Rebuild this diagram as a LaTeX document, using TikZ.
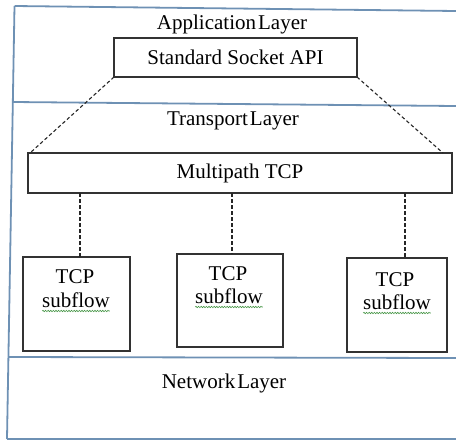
\documentclass[tikz,border=0pt]{standalone}
\usepackage{fontspec}
\setmainfont{Liberation Serif}
\usetikzlibrary{decorations.pathmorphing}
\definecolor{framec}{RGB}{110,145,180}
\definecolor{boxc}{RGB}{50,50,50}
\definecolor{spellc}{RGB}{70,150,70}
\newcommand\laysp{\hspace{2pt}}
\tikzset{
  lbl/.style={inner sep=0pt, outer sep=0pt, font=\fontsize{21}{24}\selectfont, text=black},
  boxnode/.style={draw=boxc, line width=1.2pt, inner sep=0pt, outer sep=0pt, rectangle, fill=white},
  frameline/.style={draw=framec, line width=1.8pt},
  conn/.style={draw=black!85, line width=1.1pt, dash pattern=on 3.5pt off 2.5pt},
  spell/.style={draw=spellc, line width=0.6pt, decorate, decoration={snake, amplitude=0.7pt, segment length=2.6pt}}
}
\begin{document}
\begin{tikzpicture}[x=1pt,y=-1pt]
\useasboundingbox (0,0) rectangle (456,440);
% frame
\draw[frameline] (14.5,6) -- (7,439);
\draw[frameline] (14.5,6) -- (456,11);
\draw[frameline] (13,102) -- (456,106);
\draw[frameline] (8.4,357) -- (456,358);
\draw[frameline] (7,439) -- (456,439);
% layer labels
\node[lbl, anchor=base] (app) at (232,29) {Application\laysp Layer};
\node[lbl, anchor=base] (trl) at (233,125) {Transport\laysp Layer};
\node[lbl, anchor=base] (net) at (224,388) {Network\laysp Layer};
% boxes
\node[boxnode, minimum width=243pt, minimum height=39pt, font=\fontsize{21}{24}\selectfont] (api) at (235.5,57.5) {Standard Socket API};
\node[boxnode, minimum width=424pt, minimum height=40pt, font=\fontsize{21}{24}\selectfont] (mp) at (240,173) {Multipath TCP};
\node[boxnode, minimum width=107pt, minimum height=94pt] (sub1) at (76.5,304) {};
\node[boxnode, minimum width=106pt, minimum height=93pt] (sub2) at (230,300.5) {};
\node[boxnode, minimum width=100pt, minimum height=94pt] (sub3) at (397,305) {};
% subflow texts
\node[lbl, anchor=base] (t1) at (75,283) {TCP};
\node[lbl, anchor=base] (s1) at (76,307) {subflow};
\node[lbl, anchor=base] (t2) at (228,280) {TCP};
\node[lbl, anchor=base] (s2) at (229,303) {subflow};
\node[lbl, anchor=base] (t3) at (395,286) {TCP};
\node[lbl, anchor=base] (s3) at (397,309) {subflow};
\draw[spell] ([yshift=-4pt]s1.base west) -- ([yshift=-4pt]s1.base east);
\draw[spell] ([yshift=-4pt]s2.base west) -- ([yshift=-4pt]s2.base east);
\draw[spell] ([yshift=-4pt]s3.base west) -- ([yshift=-4pt]s3.base east);
% connectors
\coordinate (c1) at (80,0);
\coordinate (c2) at (232,0);
\coordinate (c3) at (405,0);
\draw[conn] (api.south west) -- ([xshift=2pt]mp.north west);
\draw[conn] (api.south east) -- ([xshift=-9pt]mp.north east);
\draw[conn] (mp.south -| c1) -- (sub1.north -| c1);
\draw[conn] (mp.south -| c2) -- (sub2.north -| c2);
\draw[conn] (mp.south -| c3) -- (sub3.north -| c3);
\end{tikzpicture}
\end{document}
